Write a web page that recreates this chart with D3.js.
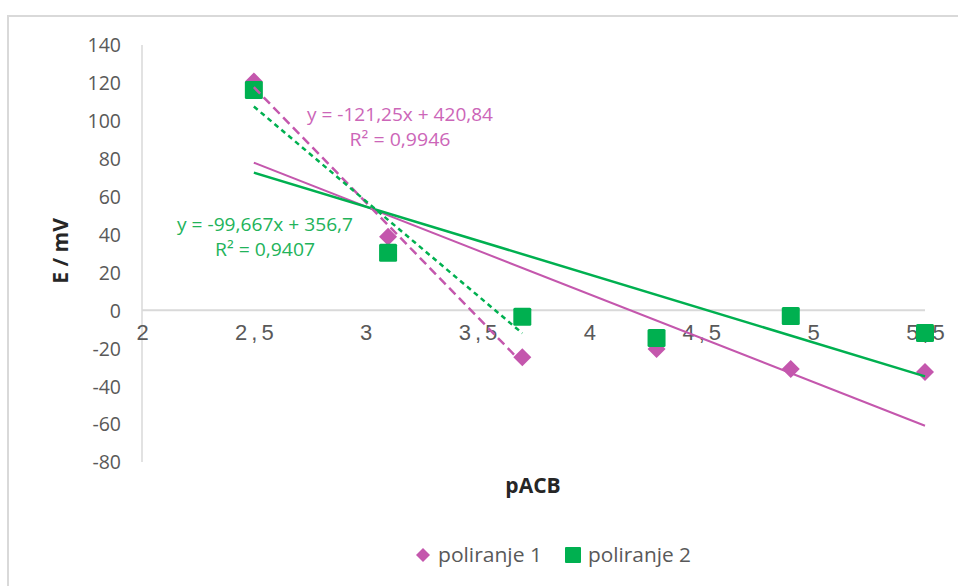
<!DOCTYPE html>
<html><head><meta charset="utf-8">
<script src="https://cdn.jsdelivr.net/npm/d3@7"></script>
<style>
html,body{margin:0;padding:0;background:#fff;}
svg{display:block;font-family:"Open Sans","Noto Sans",sans-serif;}
</style></head>
<body>
<svg id="chart" width="958" height="586"></svg>
<script>
// ---- data ----
const pACB = [2.5, 3.1, 3.7, 4.3, 4.9, 5.5];
const poliranje1 = [120.8, 38.8, -24.7, -20.4, -31.0, -32.5];
const poliranje2 = [116.2, 30.4, -3.4, -14.6, -3.0, -12.0];
const seriesNames = ["poliranje 1", "poliranje 2"];
const yTicks = [140, 120, 100, 80, 60, 40, 20, 0, -20, -40, -60, -80];
const xTicks = [2, 2.5, 3, 3.5, 4, 4.5, 5, 5.5];
const xTickLabels = ["2", "2,5", "3", "3,5", "4", "4,5", "5", "5,5"];
const eq1 = ["y = -121,25x + 420,84", "R\u00B2 = 0,9946"];
const eq2 = ["y = -99,667x + 356,7", "R\u00B2 = 0,9407"];
const partialCount = 3; // points used for the dashed trendlines

const svg = d3.select("#chart");
const C1 = "#C457AD", C2 = "#00B050";
const T1 = "#CC66B8", T2 = "#22B35A";
const GRID = "#D9D9D9", LAB = "#595959";

// outer border
svg.append("path").attr("d","M8,600 L8,16 L970,16").attr("fill","none")
   .attr("stroke",GRID).attr("stroke-width",2);

const x = d3.scaleLinear().domain([2,5.5]).range([142,925]);
const y = d3.scaleLinear().domain([-80,140]).range([462,45]);

// y axis line
svg.append("line").attr("x1",x(2)).attr("x2",x(2)).attr("y1",y(140)).attr("y2",y(-80))
   .attr("stroke",GRID).attr("stroke-width",1.5);
// x axis (zero line)
svg.append("line").attr("x1",x(2)).attr("x2",x(5.5)).attr("y1",y(0)).attr("y2",y(0))
   .attr("stroke",GRID).attr("stroke-width",2);

// y tick labels
const yAxis = d3.axisLeft(y).tickValues(yTicks).tickSize(0).tickPadding(0)
  .tickFormat(d => String(d));
const gy = svg.append("g").attr("transform","translate(121,0)").call(yAxis);
gy.select(".domain").remove();
gy.selectAll("text").attr("fill",LAB).style("font-size","19.5px")
  .style("font-family","'Open Sans',sans-serif").attr("dy","0.35em");

// x tick labels
const xAxis = d3.axisBottom(x).tickValues(xTicks).tickSize(0).tickPadding(0)
  .tickFormat((d,i) => xTickLabels[i]);
const gx = svg.append("g").attr("transform","translate(0,"+(y(0)+22)+")").call(xAxis);
gx.select(".domain").remove();
gx.selectAll("text").attr("fill",LAB).style("font-size","22px")
  .style("font-weight","300").style("letter-spacing","4px")
  .attr("dy","0.35em").attr("dx","2px");

// axis titles
svg.append("text").attr("transform","translate(68,251) rotate(-90)")
  .attr("text-anchor","middle").attr("font-weight","bold").attr("font-size","21px")
  .attr("fill","#262626").text("E / mV");
svg.append("text").attr("x",533).attr("y",493)
  .attr("text-anchor","middle").attr("font-weight","bold").attr("font-size","21px")
  .attr("fill","#262626").text("pACB");

const pts1 = pACB.map((v,i)=>({x:v,y:poliranje1[i]}));
const pts2 = pACB.map((v,i)=>({x:v,y:poliranje2[i]}));

// markers
svg.append("g").selectAll("path").data(pts1).join("path")
  .attr("transform",d=>`translate(${x(d.x)},${y(d.y)})`)
  .attr("d","M0,-9 L9,0 L0,9 L-9,0 Z").attr("fill",C1);
svg.append("g").selectAll("rect").data(pts2).join("rect")
  .attr("x",d=>x(d.x)-9).attr("y",d=>y(d.y)-9).attr("width",18).attr("height",18)
  .attr("rx",1.5).attr("fill",C2);

// linear regression
function fit(pts){
  const mx = d3.mean(pts,d=>d.x), my = d3.mean(pts,d=>d.y);
  const b = d3.sum(pts,d=>(d.x-mx)*(d.y-my))/d3.sum(pts,d=>(d.x-mx)**2);
  return {b, a: my-b*mx};
}
function trend(pts, stroke, width, dash){
  const f = fit(pts);
  const x0 = d3.min(pts,d=>d.x), x1 = d3.max(pts,d=>d.x);
  const ln = svg.append("line")
    .attr("x1",x(x0)).attr("y1",y(f.a+f.b*x0))
    .attr("x2",x(x1)).attr("y2",y(f.a+f.b*x1))
    .attr("stroke",stroke).attr("stroke-width",width);
  if(dash) ln.attr("stroke-dasharray",dash);
}
trend(pts1, C1, 2, null);
trend(pts2, C2, 2.5, null);
trend(pts1.slice(0,partialCount), C1, 2.5, "9,5");
trend(pts2.slice(0,partialCount), C2, 2.5, "5,4");

// equation labels
function eqLabel(lines, cx, cy, color, widths){
  lines.forEach((t,i)=>{
    svg.append("text").attr("x",cx).attr("y",cy+i*25).attr("dy","0.35em")
      .attr("text-anchor","middle").attr("font-size","18.5px").attr("fill",color)
      .attr("textLength",widths[i]).attr("lengthAdjust","spacingAndGlyphs")
      .text(t);
  });
}
eqLabel(eq1, 400, 115, T1, [186, 101]);
eqLabel(eq2, 265, 225, T2, [176, 100]);

// legend
const lg = svg.append("g");
lg.append("path").attr("transform","translate(423,555)").attr("d","M0,-7 L7,0 L0,7 L-7,0 Z").attr("fill",C1);
lg.append("text").attr("x",438).attr("y",555).attr("dy","0.35em").attr("font-size","20px")
  .attr("textLength",104).attr("lengthAdjust","spacingAndGlyphs")
  .attr("fill",LAB).text(seriesNames[0]);
lg.append("rect").attr("x",565).attr("y",547).attr("width",16).attr("height",16).attr("rx",1).attr("fill",C2);
lg.append("text").attr("x",588).attr("y",555).attr("dy","0.35em").attr("font-size","20px")
  .attr("textLength",103).attr("lengthAdjust","spacingAndGlyphs")
  .attr("fill",LAB).text(seriesNames[1]);
</script>
</body></html>
